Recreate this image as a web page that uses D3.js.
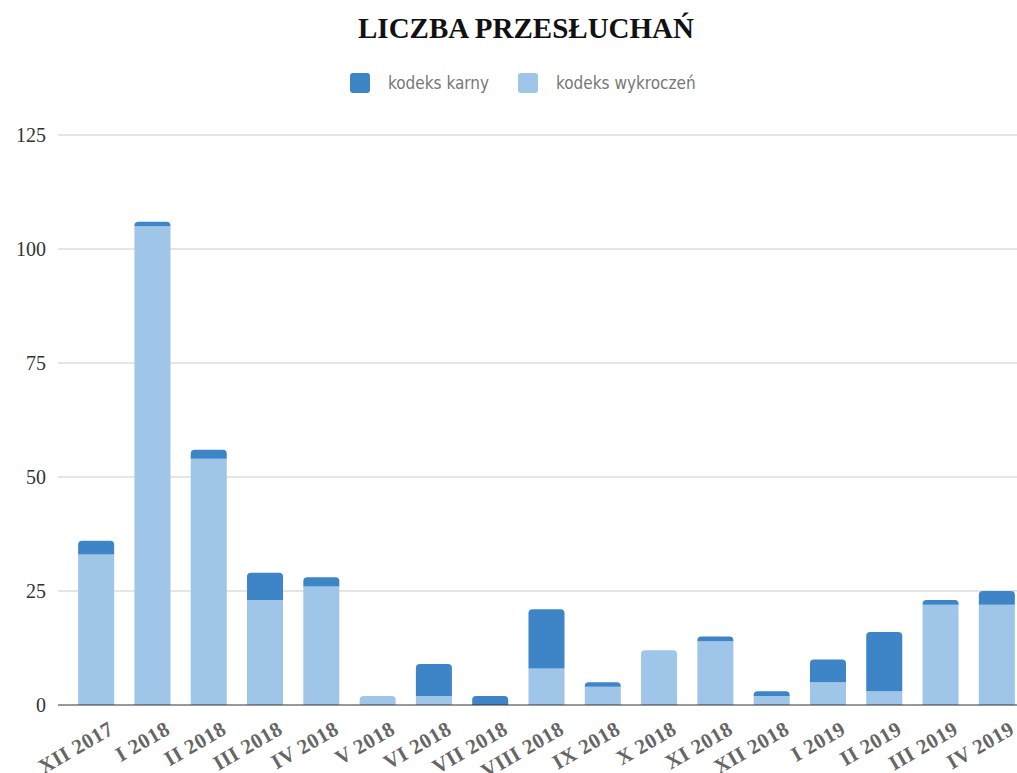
<!DOCTYPE html>
<html>
<head>
<meta charset="utf-8">
<script src="https://cdn.jsdelivr.net/npm/d3@7"></script>
<style>
  body { margin: 0; background: #fff; }
  svg { display: block; }
</style>
</head>
<body>
<svg width="1017" height="773"></svg>
<script>
// months + two series (kodeks wykroczeń at the bottom, kodeks karny stacked on top)
var months = ['XII 2017', 'I 2018', 'II 2018', 'III 2018', 'IV 2018', 'V 2018', 'VI 2018', 'VII 2018', 'VIII 2018',
  'IX 2018', 'X 2018', 'XI 2018', 'XII 2018', 'I 2019', 'II 2019', 'III 2019', 'IV 2019'];
var wykroczen = [33, 105, 54, 23, 26, 2, 2, 0, 8, 4, 12, 14, 2, 5, 3, 22, 22];
var karny = [3, 1, 2, 6, 2, 0, 7, 2, 13, 1, 0, 1, 1, 5, 13, 1, 3];
var yTicks = [0, 25, 50, 75, 100, 125];
var seriesNames = ['kodeks karny', 'kodeks wykroczeń'];
var colors = { karny: '#3d85c6', wykroczen: '#9fc5e8' };

var svg = d3.select('svg');
var plotL = 58, plotR = 1017, plotT = 135, plotB = 705;

var x = d3.scaleBand().domain(months).range([68, 1025]).paddingInner(0.36).paddingOuter(0.18);
var y = d3.scaleLinear().domain([0, 125]).range([plotB, plotT]);

var rows = months.map(function (m, i) { return { m: m, w: wykroczen[i], k: karny[i] }; });

// title
svg.append('text')
  .attr('x', 526).attr('y', 38)
  .attr('text-anchor', 'middle')
  .style('font-family', '"Liberation Serif", "Times New Roman", serif')
  .style('font-weight', 'bold')
  .style('font-size', '29px')
  .attr('fill', '#111')
  .text('LICZBA PRZESŁUCHAŃ');

// legend
var legend = svg.append('g');
var legX = [350, 518];
seriesNames.forEach(function (name, i) {
  legend.append('rect')
    .attr('x', legX[i]).attr('y', 73).attr('width', 20).attr('height', 20).attr('rx', 3)
    .attr('fill', i === 0 ? colors.karny : colors.wykroczen);
  legend.append('text')
    .attr('x', legX[i] + 38).attr('y', 89)
    .style('font-family', '"Liberation Sans Narrow", "DejaVu Sans Condensed", Roboto, sans-serif')
    .style('font-size', '17px')
    .attr('fill', '#777')
    .text(name);
});

// grid
svg.append('g').selectAll('line.grid').data(yTicks.slice(1)).enter()
  .append('line')
  .attr('class', 'grid')
  .attr('x1', plotL).attr('x2', plotR)
  .attr('y1', function (d) { return y(d); }).attr('y2', function (d) { return y(d); })
  .attr('stroke', '#ccc').attr('stroke-width', 1);

// y labels
svg.append('g').selectAll('text').data(yTicks).enter()
  .append('text')
  .attr('x', 46).attr('y', function (d) { return y(d) + 7; })
  .attr('text-anchor', 'end')
  .style('font-family', '"Liberation Serif", "Times New Roman", serif')
  .style('font-size', '20px')
  .attr('fill', '#333')
  .text(function (d) { return d; });

function topRounded(x0, y0, w, h, r) {
  if (h <= 0) return '';
  r = Math.min(r, h, w / 2);
  return 'M' + x0 + ',' + (y0 + h) + 'V' + (y0 + r) + 'Q' + x0 + ',' + y0 + ' ' + (x0 + r) + ',' + y0 +
    'H' + (x0 + w - r) + 'Q' + (x0 + w) + ',' + y0 + ' ' + (x0 + w) + ',' + (y0 + r) + 'V' + (y0 + h) + 'Z';
}

var bars = svg.append('g').selectAll('g.bar').data(rows).enter().append('g').attr('class', 'bar');

bars.append('path')
  .attr('fill', colors.wykroczen)
  .attr('d', function (d) {
    var h = plotB - y(d.w);
    if (h <= 0) return '';
    return d.k > 0 ? 'M' + x(d.m) + ',' + y(d.w) + 'h' + x.bandwidth() + 'v' + h + 'h' + (-x.bandwidth()) + 'Z'
      : topRounded(x(d.m), y(d.w), x.bandwidth(), h, 4);
  });

bars.append('path')
  .attr('fill', colors.karny)
  .attr('d', function (d) {
    return topRounded(x(d.m), y(d.w + d.k), x.bandwidth(), y(d.w) - y(d.w + d.k), 4);
  });

// baseline
svg.append('line')
  .attr('x1', plotL).attr('x2', plotR)
  .attr('y1', plotB).attr('y2', plotB)
  .attr('stroke', '#333').attr('stroke-width', 1.2);

// x labels
svg.append('g').selectAll('text').data(months).enter()
  .append('text')
  .attr('text-anchor', 'end')
  .attr('transform', function (d) {
    return 'translate(' + (x(d) + x.bandwidth() / 2 + 19) + ',' + 733 + ') rotate(-30)';
  })
  .style('font-family', '"Liberation Serif", "Times New Roman", serif')
  .style('font-weight', 'bold')
  .style('font-size', '21px')
  .style('letter-spacing', '0.5px')
  .attr('fill', '#666')
  .text(function (d) { return d; });
</script>
</body>
</html>
